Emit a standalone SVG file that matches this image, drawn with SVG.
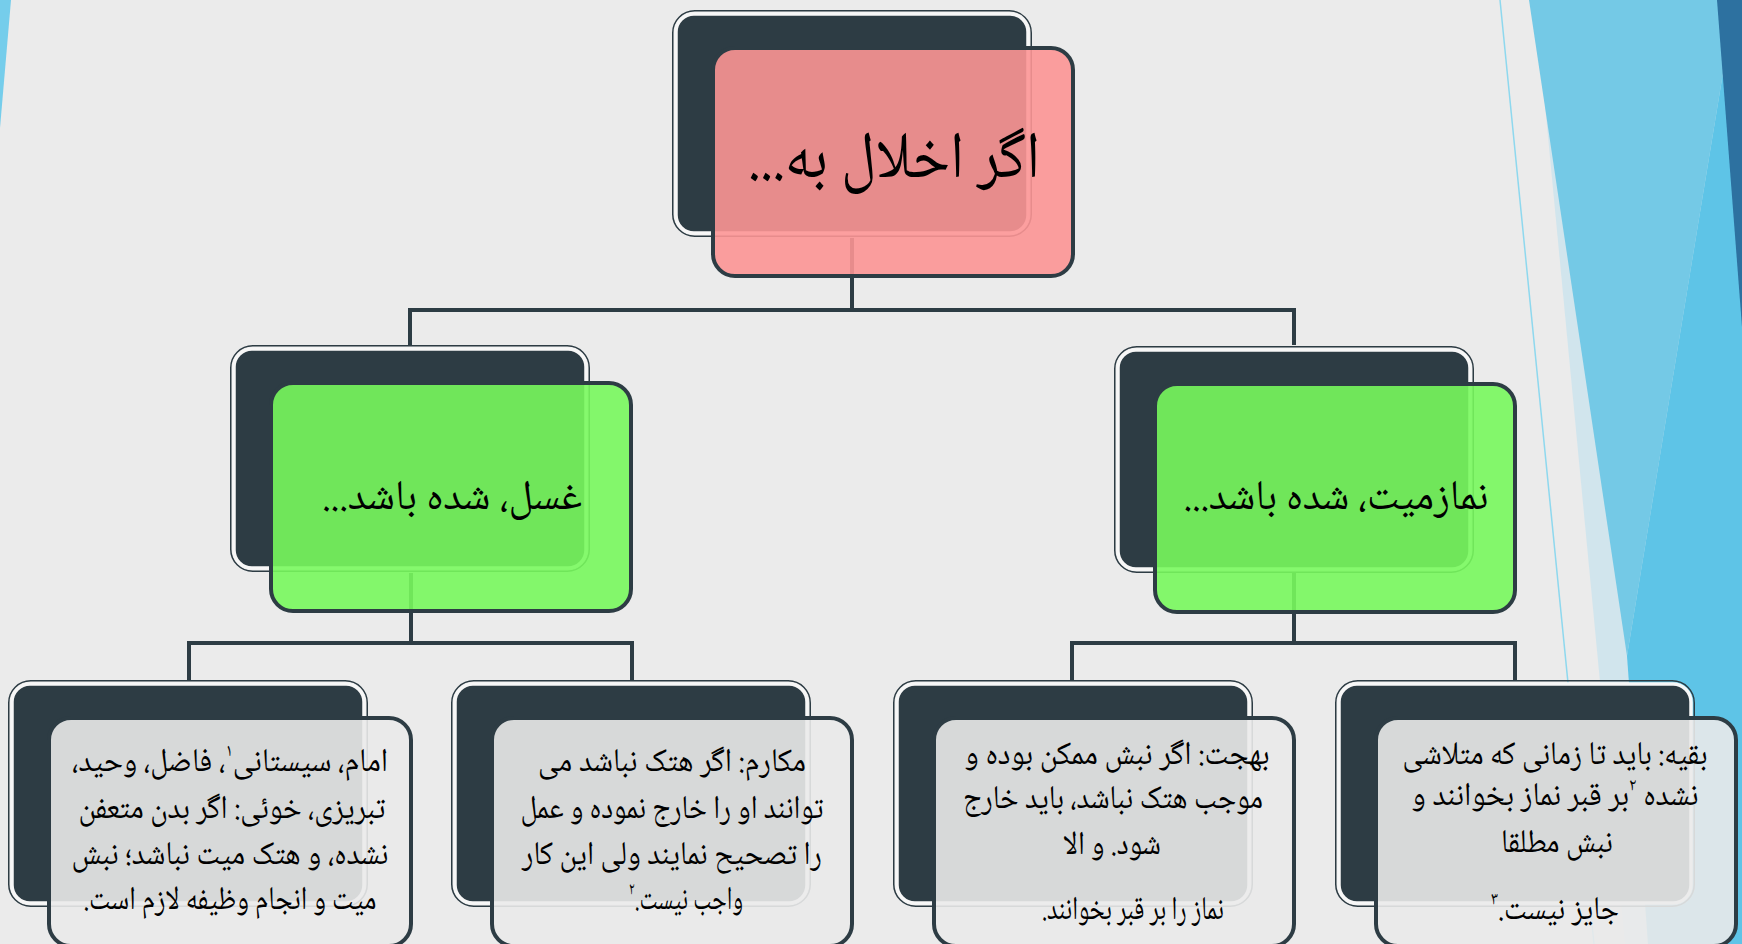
<svg xmlns="http://www.w3.org/2000/svg" width="1742" height="944" viewBox="0 0 1742 944">
<style>
.bgo{fill:none;stroke:#2D3C44;stroke-width:1.5}
.bgf{fill:#2D3C44;stroke:#F7F7F7;stroke-width:3.5}
.fr{stroke:#2D3C44;stroke-width:4}
.pink{fill:#FC9595;fill-opacity:0.9}
.green{fill:#78F85D;fill-opacity:0.9}
.gray{fill:#EAEAEA;fill-opacity:0.9}
.conn{fill:none;stroke:#2D3C44;stroke-width:4}
text{font-family:"Noto Naskh Arabic","DejaVu Sans",sans-serif;fill:#000;text-anchor:middle;direction:rtl}
.t1{font-size:66px}
.t2{font-size:42px}
.t3{font-size:33px}
.sup{font-size:18px;baseline-shift:super}
</style>
<g id="background">
<rect x="0" y="0" width="1742" height="944" fill="#EBEBEB"/>
<polygon points="0,0 11,0 0,128" fill="#75CDEB"/>
<polygon points="1535,0 1742,0 1742,944 1625,944" fill="#D1E5ED"/>
<line x1="1500" y1="0" x2="1594" y2="944" stroke="#8ED8EE" stroke-width="1.5"/>
<polygon points="1529,0 1735,0 1627,656" fill="#74C9E6"/>
<polygon points="1735,0 1742,0 1742,944 1648,944 1627,656" fill="#5EC4E7"/>
<polygon points="1717,0 1742,0 1742,327" fill="#2D71A0"/>
</g>
<g id="connectors">
<path class="conn" d="M852,238 V310 M410,345 V310 H1294 V345"/>
<path class="conn" d="M411,573 V643 M189,680 V643 H632 V680"/>
<path class="conn" d="M1294,573 V643 M1072,680 V643 H1515 V680"/>
</g>
<g id="node-root">
<rect class="bgo" x="672.75" y="10.75" width="358.5" height="225.5" rx="22"/>
<rect class="bgf" x="676" y="14" width="352" height="219" rx="18"/>
<rect class="fr pink" x="713" y="48" width="360" height="228" rx="22"/>
<text class="t1" x="894" y="177" textLength="292" lengthAdjust="spacingAndGlyphs">اگر اخلال به...</text>
</g>
<g id="node-ghusl">
<rect class="bgo" x="230.75" y="345.75" width="358.5" height="225.5" rx="22"/>
<rect class="bgf" x="234" y="349" width="352" height="219" rx="18"/>
<rect class="fr green" x="271" y="383" width="360" height="228" rx="22"/>
<text class="t2" x="452" y="509" textLength="260" lengthAdjust="spacingAndGlyphs">غسل، شده باشد...</text>
</g>
<g id="node-namaz">
<rect class="bgo" x="1114.75" y="346.75" width="358.5" height="225.5" rx="22"/>
<rect class="bgf" x="1118" y="350" width="352" height="219" rx="18"/>
<rect class="fr green" x="1155" y="384" width="360" height="228" rx="22"/>
<text class="t2" x="1336" y="509" textLength="305" lengthAdjust="spacingAndGlyphs">نمازمیت، شده باشد...</text>
</g>
<g id="node-imam">
<rect class="bgo" x="8.75" y="680.75" width="358.5" height="225.5" rx="22"/>
<rect class="bgf" x="12" y="684" width="352" height="219" rx="18"/>
<rect class="fr gray" x="49" y="718" width="362" height="228" rx="22"/>
<text class="t3" x="230" y="771" textLength="316" lengthAdjust="spacingAndGlyphs">امام، سیستانی<tspan class="sup">۱</tspan>، فاضل، وحید،</text>
<text class="t3" x="232" y="818" textLength="307" lengthAdjust="spacingAndGlyphs">تبریزی، خوئی: اگر بدن متعفن</text>
<text class="t3" x="230" y="864" textLength="317" lengthAdjust="spacingAndGlyphs">نشده، و هتک میت نباشد؛ نبش</text>
<text class="t3" x="230" y="909" textLength="293" lengthAdjust="spacingAndGlyphs">میت و انجام وظیفه لازم است.</text>
</g>
<g id="node-makarem">
<rect class="bgo" x="451.75" y="680.75" width="358.5" height="225.5" rx="22"/>
<rect class="bgf" x="455" y="684" width="352" height="219" rx="18"/>
<rect class="fr gray" x="492" y="718" width="360" height="228" rx="22"/>
<text class="t3" x="672" y="771" textLength="268" lengthAdjust="spacingAndGlyphs">مکارم: اگر هتک نباشد می</text>
<text class="t3" x="672" y="818" textLength="303" lengthAdjust="spacingAndGlyphs">توانند او را خارج نموده و عمل</text>
<text class="t3" x="672" y="864" textLength="300" lengthAdjust="spacingAndGlyphs">را تصحیح نمایند ولی این کار</text>
<text class="t3" x="686" y="909" textLength="114" lengthAdjust="spacingAndGlyphs">واجب نیست.<tspan class="sup">۲</tspan></text>
</g>
<g id="node-behjat">
<rect class="bgo" x="893.75" y="680.75" width="358.5" height="225.5" rx="22"/>
<rect class="bgf" x="897" y="684" width="352" height="219" rx="18"/>
<rect class="fr gray" x="934" y="718" width="360" height="228" rx="22"/>
<text class="t3" x="1117" y="764" textLength="305" lengthAdjust="spacingAndGlyphs">بهجت: اگر نبش ممکن بوده و</text>
<text class="t3" x="1113" y="808" textLength="300" lengthAdjust="spacingAndGlyphs">موجب هتک نباشد، باید خارج</text>
<text class="t3" x="1112" y="854" textLength="98" lengthAdjust="spacingAndGlyphs">شود. و الا</text>
<text class="t3" x="1133" y="919" textLength="182" lengthAdjust="spacingAndGlyphs">نماز را بر قبر بخوانند.</text>
</g>
<g id="node-baqiye">
<rect class="bgo" x="1335.75" y="680.75" width="358.5" height="225.5" rx="22"/>
<rect class="bgf" x="1339" y="684" width="352" height="219" rx="18"/>
<rect class="fr gray" x="1376" y="718" width="360" height="228" rx="22"/>
<text class="t3" x="1555" y="764" textLength="305" lengthAdjust="spacingAndGlyphs">بقیه: باید تا زمانی که متلاشی</text>
<text class="t3" x="1555" y="805" textLength="287" lengthAdjust="spacingAndGlyphs">نشده <tspan class="sup">۲</tspan>بر قبر نماز بخوانند و</text>
<text class="t3" x="1557" y="852" textLength="112" lengthAdjust="spacingAndGlyphs">نبش مطلقا</text>
<text class="t3" x="1555" y="919" textLength="128" lengthAdjust="spacingAndGlyphs">جایز نیست.<tspan class="sup">۳</tspan></text>
</g>
</svg>
